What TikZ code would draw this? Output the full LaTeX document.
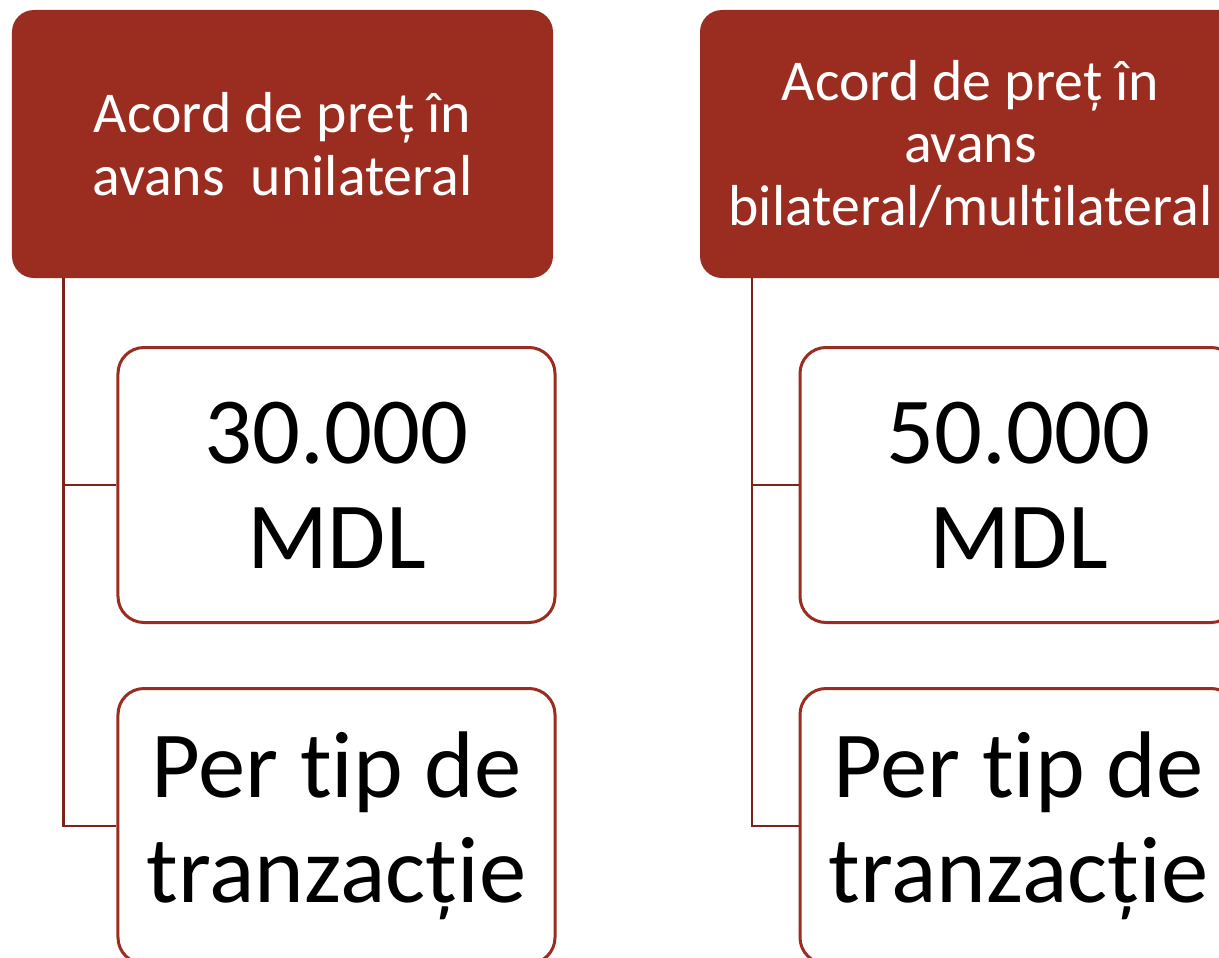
\documentclass[tikz,border=0pt]{standalone}
\usepackage{fontspec}
\setmainfont{Carlito}[Ligatures={NoCommon}]
\definecolor{hdr}{RGB}{155,45,32}
\definecolor{conn}{RGB}{125,36,26}
\begin{document}
\begin{tikzpicture}[x=1bp,y=-1bp,
  hdrbox/.style={rectangle, rounded corners=22bp, fill=hdr, draw=none, text=white,
    font=\fontsize{58}{63}\selectfont, align=center, inner sep=0pt,
    minimum width=541bp, minimum height=268bp},
  childbox/.style={rectangle, rounded corners=26bp, draw=hdr, line width=3bp, fill=white,
    text=black, font=\fontsize{95}{105}\selectfont, align=center, inner sep=0pt,
    minimum width=437bp, minimum height=275bp},
  link/.style={draw=conn, line width=2.6bp}]
\useasboundingbox (0,0) rectangle (1219,958);
\clip (0,0) rectangle (1219,958);
\fill[white] (0,0) rectangle (1219,958);
\node[hdrbox] (hL) at (282.5,144) {Acord de preț în\\avans~ unilateral};
\node[hdrbox] (hR) at (970.5,144) {Acord de preț în\\avans\\bilateral/multilateral};
\node[childbox] (c1L) at (336.5,485) {30.000\\MDL};
\node[childbox] (c2L) at (336.5,826) {Per tip de\\tranzacție};
\node[childbox] (c1R) at (1018.5,485) {50.000\\MDL};
\node[childbox] (c2R) at (1018.5,826) {Per tip de\\tranzacție};
\coordinate (tL) at ([xshift=52bp]hL.south west);
\coordinate (tR) at ([xshift=52bp]hR.south west);
\draw[link] (tL) |- (c1L.west);
\draw[link] (tL) |- (c2L.west);
\draw[link] (tR) |- (c1R.west);
\draw[link] (tR) |- (c2R.west);
\end{tikzpicture}
\end{document}
